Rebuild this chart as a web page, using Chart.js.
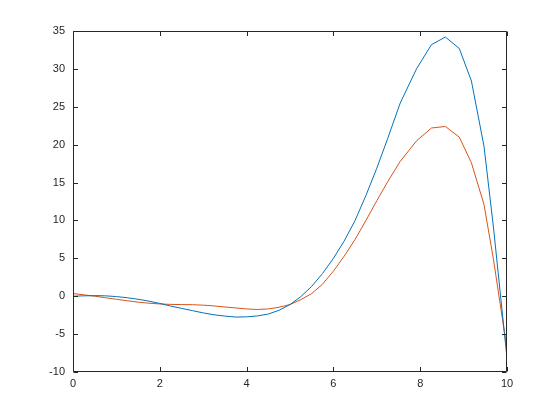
<!DOCTYPE html>
<html>
<head>
<meta charset="utf-8">
<script src="https://cdn.jsdelivr.net/npm/chart.js@4/dist/chart.umd.min.js"></script>
<style>
  html, body { margin: 0; padding: 0; background: #fff; }
  #wrap { width: 560px; height: 420px; }
</style>
</head>
<body>
<div id="wrap"><canvas id="c" width="560" height="420"></canvas></div>
<script>
const xValues = [0, 0.25, 0.5, 0.75, 1.0, 1.25, 1.5, 1.75, 2.0, 2.25, 2.5, 2.75, 3.0, 3.25, 3.5, 3.75, 4.0, 4.25, 4.5, 4.75, 5.0, 5.25, 5.5, 5.75, 6.0, 6.25, 6.5, 6.75, 7.0, 7.25, 7.54, 7.915, 8.26, 8.58, 8.90, 9.18, 9.47, 9.69, 10];
const blueValues = [0.0, 0.05, 0.08, 0.05, -0.05, -0.2, -0.4, -0.65, -0.95, -1.3, -1.6, -1.9, -2.2, -2.45, -2.62, -2.75, -2.72, -2.6, -2.35, -1.85, -1.1, -0.05, 1.3, 3.0, 5.0, 7.3, 10.0, 13.3, 16.9, 20.8, 25.5, 30.0, 33.2, 34.2, 32.7, 28.4, 19.8, 9.0, -8.2];
const orangeValues = [0.35, 0.18, 0.0, -0.2, -0.4, -0.6, -0.78, -0.92, -1.02, -1.08, -1.1, -1.12, -1.18, -1.28, -1.42, -1.55, -1.68, -1.75, -1.68, -1.45, -1.1, -0.45, 0.35, 1.6, 3.3, 5.3, 7.5, 10.0, 12.6, 15.1, 17.8, 20.5, 22.2, 22.4, 21.0, 17.6, 12.1, 4.8, -7.0];
const xTicks = [0, 2, 4, 6, 8, 10];
const yTicks = [-10, -5, 0, 5, 10, 15, 20, 25, 30, 35];

const axisColor = '#262626';

const boxPlugin = {
  id: 'matlabBox',
  afterDraw(chart) {
    const ctx = chart.ctx;
    const a = chart.chartArea;
    const xs = chart.scales.x, ys = chart.scales.y;
    const L = Math.round(a.left) + 0.5, R = Math.round(a.right) - 0.5;
    const T = Math.round(a.top) + 0.5, B = Math.round(a.bottom) - 0.5;
    const tl = 4.5;
    ctx.save();
    ctx.strokeStyle = axisColor;
    ctx.lineWidth = 1;
    ctx.beginPath();
    ctx.rect(L, T, R - L, B - T);
    xTicks.forEach(v => {
      const px = Math.round(xs.getPixelForValue(v)) + 0.5;
      ctx.moveTo(px, B); ctx.lineTo(px, B - tl);
      ctx.moveTo(px, T); ctx.lineTo(px, T + tl);
    });
    yTicks.forEach(v => {
      const py = Math.round(ys.getPixelForValue(v)) + 0.5;
      ctx.moveTo(L, py); ctx.lineTo(L + tl, py);
      ctx.moveTo(R, py); ctx.lineTo(R - tl, py);
    });
    ctx.stroke();
    ctx.restore();
  }
};

new Chart(document.getElementById('c'), {
  type: 'line',
  data: {
    datasets: [
      {
        data: xValues.map((x, i) => ({ x: x, y: blueValues[i] })),
        borderColor: '#0072BD',
        borderWidth: 1,
        pointRadius: 0,
        tension: 0,
        fill: false
      },
      {
        data: xValues.map((x, i) => ({ x: x, y: orangeValues[i] })),
        borderColor: '#D95319',
        borderWidth: 1,
        pointRadius: 0,
        tension: 0,
        fill: false
      }
    ]
  },
  options: {
    responsive: false,
    animation: false,
    devicePixelRatio: 1,
    layout: { padding: { left: 0, right: 53, top: 31, bottom: 0 } },
    plugins: { legend: { display: false }, tooltip: { enabled: false } },
    scales: {
      x: {
        type: 'linear',
        min: 0, max: 10,
        afterBuildTicks(scale) { scale.ticks = xTicks.map(v => ({ value: v })); },
        afterFit(scale) { scale.height = 48; },
        grid: { display: false, drawTicks: false },
        border: { display: false },
        ticks: { color: axisColor, font: { family: 'Liberation Sans, Arial, sans-serif', size: 11 }, padding: 5, maxRotation: 0 }
      },
      y: {
        type: 'linear',
        min: -10, max: 35,
        afterBuildTicks(scale) { scale.ticks = yTicks.map(v => ({ value: v })); },
        afterFit(scale) { scale.width = 73; },
        grid: { display: false, drawTicks: false },
        border: { display: false },
        ticks: { color: axisColor, font: { family: 'Liberation Sans, Arial, sans-serif', size: 11 }, padding: 8 }
      }
    }
  },
  plugins: [boxPlugin]
});
</script>
</body>
</html>
